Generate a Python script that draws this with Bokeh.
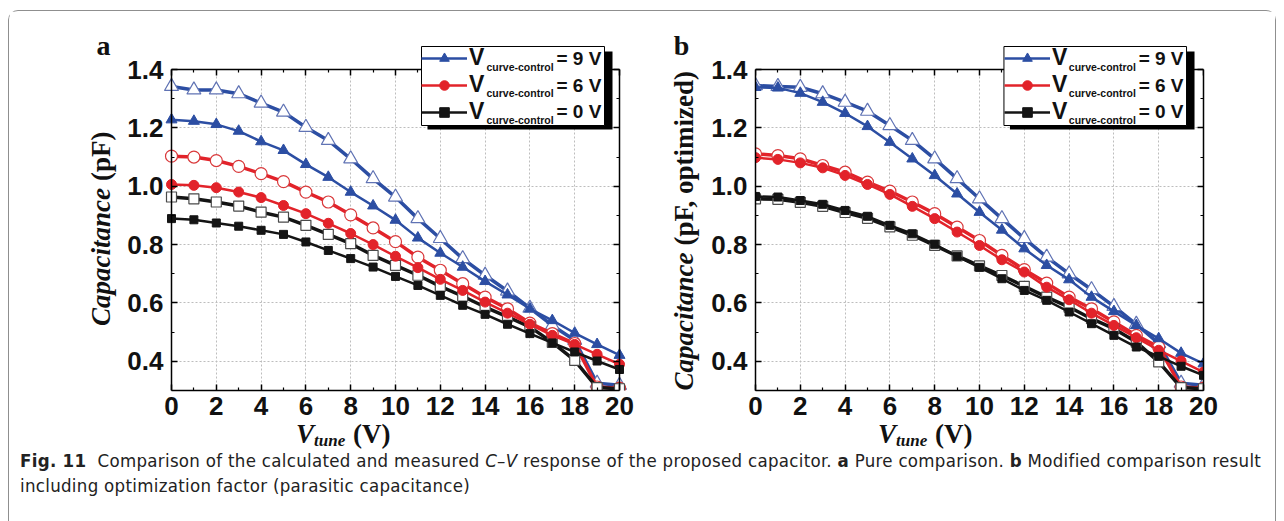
import math

from bokeh.embed import file_html
from bokeh.layouts import column, row
from bokeh.models import (BoxAnnotation, CustomJSTickFormatter, Div, FixedTicker, Label,
                          Legend, LegendItem, LinearAxis, NumeralTickFormatter, Range1d)
from bokeh.plotting import figure
from bokeh.resources import INLINE

# ---------------------------------------------------------------- data
V_TUNE = list(range(21))
X_TICKS = [0, 2, 4, 6, 8, 10, 12, 14, 16, 18, 20]
X_MINOR = [1, 3, 5, 7, 9, 11, 13, 15, 17, 19]
Y_TICKS = [0.4, 0.6, 0.8, 1.0, 1.2, 1.4]
Y_MINOR = [0.3, 0.5, 0.7, 0.9, 1.1, 1.3]

# (a) pure comparison: calculated (filled) and measured (open) C-V curves
a_calc_9v = [1.228, 1.223, 1.212, 1.189, 1.153, 1.123, 1.075, 1.031, 0.980, 0.933, 0.884,
             0.823, 0.771, 0.723, 0.674, 0.628, 0.580, 0.540, 0.497, 0.458, 0.421]
a_meas_9v = [1.342, 1.330, 1.330, 1.317, 1.285, 1.254, 1.202, 1.157, 1.094, 1.026, 0.963,
             0.889, 0.821, 0.752, 0.695, 0.641, 0.582, 0.523, 0.472, 0.325, 0.318]
a_calc_6v = [1.006, 1.003, 0.995, 0.980, 0.961, 0.934, 0.906, 0.873, 0.838, 0.800, 0.760,
             0.721, 0.681, 0.643, 0.603, 0.565, 0.527, 0.489, 0.458, 0.424, 0.390]
a_meas_6v = [1.103, 1.100, 1.088, 1.068, 1.043, 1.016, 0.980, 0.946, 0.902, 0.857, 0.810,
             0.757, 0.712, 0.666, 0.620, 0.580, 0.531, 0.495, 0.461, 0.312, 0.308]
a_calc_0v = [0.889, 0.885, 0.874, 0.863, 0.849, 0.835, 0.809, 0.780, 0.752, 0.723, 0.691,
             0.660, 0.626, 0.592, 0.561, 0.527, 0.495, 0.463, 0.432, 0.401, 0.372]
a_meas_0v = [0.963, 0.957, 0.946, 0.932, 0.911, 0.894, 0.866, 0.835, 0.803, 0.763, 0.729,
             0.695, 0.657, 0.623, 0.586, 0.552, 0.518, 0.465, 0.403, 0.310, 0.306]

# (b) calculated curves including the parasitic-capacitance optimization factor
b_calc_9v = [1.339, 1.337, 1.319, 1.288, 1.250, 1.205, 1.151, 1.094, 1.037, 0.974, 0.911,
             0.850, 0.786, 0.729, 0.680, 0.620, 0.571, 0.523, 0.478, 0.428, 0.392]
b_meas_9v = [1.345, 1.342, 1.339, 1.317, 1.288, 1.257, 1.208, 1.157, 1.094, 1.026, 0.957,
             0.889, 0.821, 0.757, 0.700, 0.646, 0.588, 0.527, 0.461, 0.325, 0.318]
b_calc_6v = [1.098, 1.092, 1.080, 1.063, 1.037, 1.006, 0.972, 0.931, 0.889, 0.843, 0.797,
             0.748, 0.706, 0.654, 0.611, 0.565, 0.523, 0.481, 0.438, 0.401, 0.363]
b_meas_6v = [1.111, 1.105, 1.094, 1.071, 1.048, 1.014, 0.983, 0.946, 0.906, 0.860, 0.814,
             0.763, 0.714, 0.668, 0.620, 0.580, 0.535, 0.489, 0.449, 0.312, 0.308]
b_calc_0v = [0.965, 0.963, 0.951, 0.938, 0.917, 0.897, 0.866, 0.837, 0.801, 0.760, 0.722,
             0.683, 0.643, 0.609, 0.569, 0.529, 0.489, 0.449, 0.417, 0.383, 0.352]
b_meas_0v = [0.957, 0.955, 0.945, 0.931, 0.910, 0.890, 0.861, 0.832, 0.797, 0.761, 0.727,
             0.694, 0.657, 0.620, 0.586, 0.546, 0.512, 0.466, 0.398, 0.310, 0.306]

CONTROL_LABELS = ["= 9 V", "= 6 V", "= 0 V"]

# ---------------------------------------------------------------- styling / page geometry
BLUE, RED, BLACK = "#2c4ea3", "#e2232a", "#141414"
SERIES_STYLE = [
    # colour, marker, filled size, open size, open outline
    (BLUE, "triangle", 11, 14, "#6073b4"),
    (RED, "circle", 10, 12, "#d9393b"),
    (BLACK, "square", 8, 10, "#4a4a4a"),
]
SANS = "Liberation Sans"
SERIF = "Liberation Serif"
INK = "#111111"

Y0, Y1 = 0.30, 1.40
PAGE_LEFT, CANVAS_TOP, CANVAS_BOTTOM = 9, 11, 428
Y1_PX, Y0_PX = 69, 390           # page rows of C = 1.4 pF and C = 0.3 pF
FRAME_TOP = 35                   # frames reach above 1.4 pF so the legends fit inside
SPLIT_PX, PAGE_RIGHT = 708, 1275
LEGEND_TOP, LEGEND_BOTTOM, LEGEND_W = 46, 125, 183
LEGEND_ROWS = [58, 84.5, 111]


def make_panel(canvas_left, canvas_right, frame_left, frame_right, x0_px, x20_px,
               calc, meas, legend_left):
    sx = (x20_px - x0_px) / 20.0
    sy = (Y0_PX - Y1_PX) / (Y1 - Y0)
    p = figure(width=canvas_right - canvas_left, height=CANVAS_BOTTOM - CANVAS_TOP,
               x_range=Range1d((frame_left - x0_px) / sx, (frame_right - x0_px) / sx),
               y_range=Range1d(Y0, Y1 + (Y1_PX - FRAME_TOP) / sy),
               output_backend="svg", toolbar_location=None,
               min_border_left=frame_left - canvas_left,
               min_border_right=canvas_right - frame_right,
               min_border_top=FRAME_TOP - CANVAS_TOP,
               min_border_bottom=CANVAS_BOTTOM - Y0_PX,
               background_fill_color="white", border_fill_color="white",
               outline_line_color=None)

    def at(px, py):
        # page pixel position -> data coordinates of this panel
        return (px - x0_px) / sx, Y1 - (py - Y1_PX) / sy

    xt = FixedTicker(ticks=X_TICKS, minor_ticks=X_MINOR)
    yt = FixedTicker(ticks=Y_TICKS, minor_ticks=Y_MINOR)
    blank = CustomJSTickFormatter(code="return ''")

    left, bottom = p.left[0], p.below[0]
    top = LinearAxis(fixed_location=Y1)
    right = LinearAxis()
    p.add_layout(top, "above")
    p.add_layout(right, "right")
    if frame_left < x0_px - 1:
        left.fixed_location = 0
    if frame_right > x20_px + 1:
        right.fixed_location = 20
    for ax in (left, right):
        ax.ticker = yt
        ax.bounds = (Y0, Y1)
    for ax in (top, bottom):
        ax.ticker = xt
        ax.bounds = (0, 20)
    for ax in (left, right, top, bottom):
        ax.axis_line_width = 1.5
        ax.axis_line_color = "black"
        ax.major_tick_in, ax.major_tick_out = 6, 0
        ax.minor_tick_in, ax.minor_tick_out = 3, 0
        ax.major_tick_line_width = 1.5
        ax.minor_tick_line_width = 1.2
        ax.major_label_text_font = SANS
        ax.major_label_text_font_style = "bold"
        ax.major_label_text_font_size = "26px"
        ax.major_label_text_color = INK
    bottom.formatter = NumeralTickFormatter(format="0")
    left.formatter = NumeralTickFormatter(format="0.0")
    for ax in (top, right):
        ax.formatter = blank
        ax.major_label_standoff = 0
        ax.major_label_text_font_size = "1px"
    bottom.major_label_standoff = 6
    left.major_label_standoff = 8

    p.xgrid[0].cross_bounds = (Y0, Y1)
    p.ygrid[0].cross_bounds = (0, 20)
    for g in (p.xgrid[0], p.ygrid[0]):
        g.grid_line_color = "#bdbdbd"
        g.grid_line_dash = "2 2"
        g.grid_line_width = 1

    # measured curves (open markers) below, calculated curves (filled markers) on top
    for (color, marker, s_fill, s_open, edge), ym in zip(SERIES_STYLE, meas):
        p.line(V_TUNE, ym, line_color=color, line_width=3.5)
        p.scatter(V_TUNE, ym, marker=marker, size=s_open, fill_color="white",
                  line_color=edge, line_width=1.2)
    items = []
    for (color, marker, s_fill, s_open, edge), yc in zip(SERIES_STYLE, calc):
        ln = p.line(V_TUNE, yc, line_color=color, line_width=2.5)
        sc = p.scatter(V_TUNE, yc, marker=marker, size=s_fill, fill_color=color,
                       line_color=color)
        items.append(LegendItem(label="V", renderers=[ln, sc]))

    # legend: shadow and framed box first, then the entries and their text on top
    sl, st = at(legend_left + 6, LEGEND_TOP + 5)
    sr, sb = at(legend_left + LEGEND_W + 8, LEGEND_BOTTOM + 4)
    p.add_layout(BoxAnnotation(left=sl, right=sr, top=st, bottom=sb, fill_color="black",
                               fill_alpha=1.0, line_color=None))
    bl, bt = at(legend_left, LEGEND_TOP)
    br, bb = at(legend_left + LEGEND_W, LEGEND_BOTTOM)
    p.add_layout(BoxAnnotation(left=bl, right=br, top=bt, bottom=bb, fill_color="white",
                               fill_alpha=1.0, line_color="black", line_width=1,
                               line_alpha=1.0))
    p.add_layout(Legend(items=items, location=(legend_left - frame_left, Y0_PX - LEGEND_BOTTOM),
                        padding=0, spacing=0, margin=0, glyph_width=46, glyph_height=24,
                        label_standoff=2, label_width=16, label_height=24,
                        label_text_font=SANS, label_text_font_style="bold",
                        label_text_font_size="23px", label_text_color=INK,
                        border_line_color=None, background_fill_alpha=0.0))
    for yy, txt in zip(LEGEND_ROWS, CONTROL_LABELS):
        x, y = at(legend_left + 65, yy + 8)
        p.add_layout(Label(x=x, y=y, text="curve-control", text_font=SANS,
                           text_font_style="bold", text_font_size="10.5px",
                           text_align="left", text_baseline="middle", text_color=INK))
        x, y = at(legend_left + 135, yy)
        p.add_layout(Label(x=x, y=y, text=txt, text_font=SANS, text_font_style="bold",
                           text_font_size="19px", text_align="left", text_baseline="middle",
                           text_color=INK))
    return p, at


pa, at_a = make_panel(PAGE_LEFT, SPLIT_PX, 69, 704, 171, 619,
                      [a_calc_9v, a_calc_6v, a_calc_0v], [a_meas_9v, a_meas_6v, a_meas_0v],
                      421)
pb, _ = make_panel(SPLIT_PX, PAGE_RIGHT, 754, 1203, 754, 1203,
                   [b_calc_9v, b_calc_6v, b_calc_0v], [b_meas_9v, b_meas_6v, b_meas_0v],
                   1003)

# Panel letters and y-axis titles sit in the gutters, which the left canvas spans.
CAP_LEN, GAP = 138, 7
for letter, letter_px, title_px, tail, tail_len in [("a", 103, 100, "(pF)", 48),
                                                     ("b", 681, 683, "(pF, optimized)", 177)]:
    x, y = at_a(letter_px, 45)
    pa.add_layout(Label(x=x, y=y, text=letter, text_font=SERIF, text_font_style="bold",
                        text_font_size="28px", text_align="center", text_baseline="middle",
                        text_color=INK))
    start = 229 + (CAP_LEN + GAP + tail_len) / 2
    x, y = at_a(title_px, start)
    pa.add_layout(Label(x=x, y=y, text="Capacitance", angle=math.pi / 2, text_font=SERIF,
                        text_font_style="bold italic", text_font_size="27px",
                        text_align="left", text_baseline="middle", text_color=INK))
    x, y = at_a(title_px, start - CAP_LEN - GAP)
    pa.add_layout(Label(x=x, y=y, text=tail, angle=math.pi / 2, text_font=SERIF,
                        text_font_style="bold", text_font_size="27px",
                        text_align="left", text_baseline="middle", text_color=INK))


# x-axis titles (V with subscript "tune") and the figure caption
def xtitle(left_px):
    l = left_px - PAGE_LEFT
    big = "font-family:'Liberation Serif';font-weight:bold;font-size:27px;line-height:27px;"
    return (f"<span style=\"position:absolute;left:{l}px;top:-7px;{big}font-style:italic\">V</span>"
            f"<span style=\"position:absolute;left:{l + 18}px;top:4px;font-family:'Liberation Serif';"
            f"font-weight:bold;font-style:italic;font-size:17px;line-height:17px\">tune</span>"
            f"<span style=\"position:absolute;left:{l + 57}px;top:-7px;{big}\">(V)</span>")


CAPTION_LINES = [
    "<b>Fig. 11</b>&nbsp; Comparison of the calculated and measured <i>C</i>&ndash;<i>V</i> "
    "response of the proposed capacitor. <b>a</b> Pure comparison. <b>b</b> Modified "
    "comparison result",
    "including optimization factor (parasitic capacitance)",
]
CAPTION_FONT = ("white-space:nowrap;color:#222222;font-family:'Liberation Sans Narrow',"
                "'DejaVu Sans Condensed','Roboto',sans-serif;font-size:18.5px;"
                "letter-spacing:0.3px;line-height:22px;")
BOTTOM_HTML = (
    "<div style=\"position:relative;width:1266px;height:93px;color:#111111\">"
    + xtitle(296) + xtitle(878)
    + "".join(f"<div style=\"position:absolute;left:11px;top:{22 + 25 * i}px;{CAPTION_FONT}\">"
              f"{line}</div>" for i, line in enumerate(CAPTION_LINES))
    + "</div>")
bottom_div = Div(text=BOTTOM_HTML, width=1266, height=93, margin=0)

page = column(row(pa, pb), bottom_div, margin=(10, 0, 0, 8),
              styles={"border": "1px solid #8f8f8f", "border-bottom": "none",
                      "border-radius": "10px 10px 0 0", "background-color": "white"})

open("out.html", "w").write(file_html(page, INLINE))
